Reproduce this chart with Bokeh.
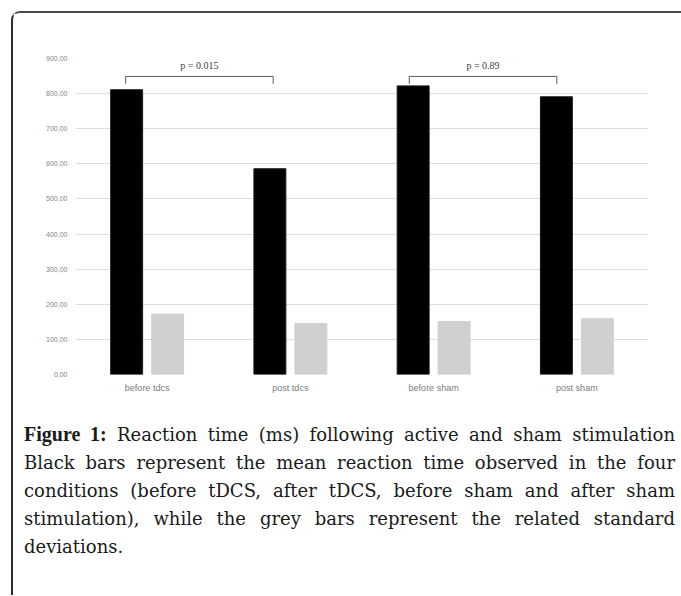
from bokeh.plotting import figure
from bokeh.models import FactorRange, Range1d, FixedTicker, ColumnDataSource, Div
from bokeh.transform import dodge
from bokeh.layouts import column
from bokeh.embed import file_html
from bokeh.resources import INLINE
from bokeh.core.properties import value

# ---- data ----
categories = ["before tdcs", "post tdcs", "before sham", "post sham"]
mean_rt = [811, 586, 822, 791]
sd_rt = [172, 145, 151, 159]
y_ticks = [0, 100, 200, 300, 400, 500, 600, 700, 800, 900]
y_tick_labels = ["0,00", "100,00", "200,00", "300,00", "400,00",
                 "500,00", "600,00", "700,00", "800,00", "900,00"]
p_labels = ["p = 0.015", "p = 0.89"]
bracket_left = [0.35, 2.33]
bracket_right = [1.38, 3.36]
caption_lines = [
    "<b style=\"font-family:'Liberation Serif',serif;font-size:20px;\">Figure 1:</b> Reaction time (ms) following active and sham stimulation",
    "Black bars represent the mean reaction time observed in the four",
    "conditions (before tDCS, after tDCS, before sham and after sham",
    "stimulation), while the grey bars represent the related standard",
    "deviations.",
]

BRACKET_Y = 849
BRACKET_DROP = 828
LABEL_Y = 880

src = ColumnDataSource(dict(cat=categories, mean=mean_rt, sd=sd_rt))

p = figure(x_range=FactorRange(*categories), y_range=Range1d(0, 900),
           width=668, height=397,
           min_border_left=62, min_border_right=33,
           min_border_top=45, min_border_bottom=36,
           output_backend="svg", toolbar_location=None)
p.outline_line_color = None
p.background_fill_color = "white"
p.border_fill_color = "white"

p.vbar(x=dodge("cat", -0.143, range=p.x_range), top="mean", width=0.223,
       source=src, fill_color="#000000", line_color="#1a1a1a")
p.vbar(x=dodge("cat", 0.143, range=p.x_range), top="sd", width=0.223,
       source=src, fill_color="#d0d0d0", line_color="#d0d0d0")

# significance brackets
xs = [[l, l, r, r] for l, r in zip(bracket_left, bracket_right)]
ys = [[BRACKET_DROP, BRACKET_Y, BRACKET_Y, BRACKET_DROP] for _ in bracket_left]
p.multi_line(xs=xs, ys=ys, line_color="#595959", line_width=1)
p.text(x=[(l + r) / 2 for l, r in zip(bracket_left, bracket_right)],
       y=[LABEL_Y] * len(p_labels), text=p_labels,
       text_font=value("Liberation Serif"), text_font_size="10px",
       text_align="center", text_baseline="middle", text_color="#404040")

# axes
for ax in (p.xaxis, p.yaxis):
    ax.axis_line_color = None
    ax.major_tick_line_color = None
    ax.minor_tick_line_color = None
    ax.major_tick_out = 0
    ax.major_tick_in = 0
    ax.minor_tick_out = 0
    ax.major_label_text_font = "Liberation Sans"

p.yaxis.ticker = FixedTicker(ticks=y_ticks)
p.yaxis.major_label_overrides = {t: l for t, l in zip(y_ticks, y_tick_labels)}
p.yaxis.major_label_text_font_size = "7px"
p.yaxis.major_label_text_color = "#858585"
p.yaxis.major_label_standoff = 8

p.xaxis.major_label_text_font_size = "9px"
p.xaxis.major_label_text_color = "#7a7a7a"
p.xaxis.major_label_standoff = 8

p.xgrid.visible = False
p.ygrid.grid_line_color = "#dedede"
p.ygrid.grid_line_width = 1

# caption
rows = []
for i, line in enumerate(caption_lines):
    last = i == len(caption_lines) - 1
    align = "left" if last else "justify"
    rows.append(f'<div style="white-space:nowrap;text-align:{align};'
                f'text-align-last:{align};">{line}</div>')
html = ('<div style="box-sizing:border-box;width:668px;padding:10px 6px 0 11px;'
        'font-family:\'DejaVu Serif\',serif;font-size:18px;line-height:28px;'
        'color:#1a1a1a;">' + "".join(rows) + '</div>')
cap = Div(text=html, width=668, height=185, margin=0)

layout = column(p, cap, margin=(11, 0, 0, 11), spacing=0,
                styles={"border-left": "2px solid #2b2b2b",
                        "border-top": "2px solid #4a4a4a",
                        "border-top-left-radius": "9px",
                        "background": "white"})

open("out.html", "w").write(file_html(layout, INLINE))
